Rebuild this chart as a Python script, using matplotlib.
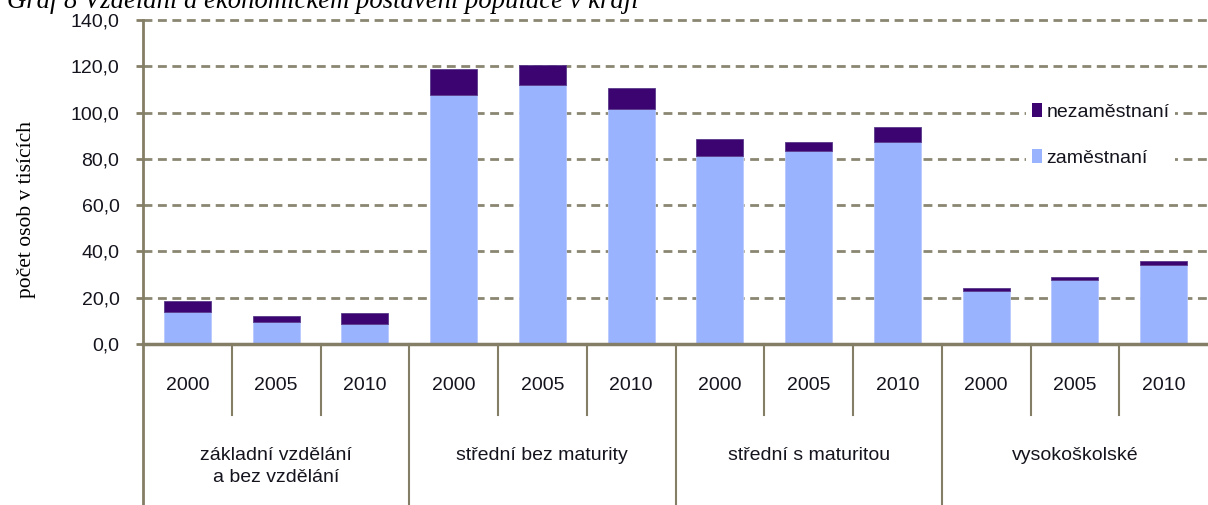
import matplotlib
matplotlib.use("Agg")
import matplotlib.pyplot as plt
from matplotlib.patches import Patch
import numpy as np

# data (tisíce osob)
groups = ["základní vzdělání\na bez vzdělání", "střední bez maturity",
          "střední s maturitou", "vysokoškolské"]
years = ["2000", "2005", "2010"]
zamestnani = [14.0, 9.4, 8.8, 107.6, 112.1, 101.7, 81.4, 83.3, 87.2, 23.0, 27.6, 34.0]
nezamestnani = [4.6, 2.6, 4.6, 11.1, 8.5, 9.1, 7.1, 3.9, 6.6, 1.3, 1.2, 1.9]
yticks = [0, 20, 40, 60, 80, 100, 120, 140]

c_zam = "#99B3FF"
c_nez = "#3B0470"
c_axis = "#857E66"
c_grid = "#8A8672"
c_text = "#14141E"
sans = ["Liberation Sans", "DejaVu Sans"]
serif = ["Liberation Serif", "DejaVu Serif"]

W, H = 1208, 505
fig = plt.figure(figsize=(W / 100, H / 100), dpi=100)
ax_left, ax_bottom, ax_top = 143, 344, 20
ax = fig.add_axes([ax_left / W, (H - ax_bottom) / H, (W - ax_left) / W, (ax_bottom - ax_top) / H])


def ay(px):
    # pixel from top of figure -> axes fraction
    return ((H - px) / H - (H - ax_bottom) / H) / ((ax_bottom - ax_top) / H)


x = np.arange(len(zamestnani))
ax.bar(x, zamestnani, width=0.53, color=c_zam, edgecolor="#B8C9FF", linewidth=0.6, zorder=3)
ax.bar(x, nezamestnani, bottom=zamestnani, width=0.53, color=c_nez, edgecolor="#5A3A8A",
       linewidth=0.6, zorder=3)

ax.set_xlim(-0.5, len(x) - 0.5)
ax.set_ylim(0, 140)
ax.set_yticks(yticks)
ax.set_yticklabels([f"{v:.1f}".replace(".", ",") for v in yticks], fontfamily=sans, fontsize=14,
                   color=c_text)
ax.tick_params(axis="y", length=5, width=2, color=c_axis, pad=12)
ax.set_xticks([])

for v in yticks[1:]:
    ax.axhline(v, color=c_grid, lw=2, linestyle=(0, (3.2, 2.0)), zorder=1, clip_on=False)

for s in ["top", "right"]:
    ax.spines[s].set_visible(False)
ax.spines["left"].set_color(c_axis)
ax.spines["left"].set_linewidth(2)
ax.spines["bottom"].set_color(c_axis)
ax.spines["bottom"].set_linewidth(2.5)
ax.spines["left"].set_zorder(4)
ax.spines["bottom"].set_zorder(4)

# category separators below axis
tr = ax.get_xaxis_transform()
ax.plot([-0.5, -0.5], [0, ay(H)], color=c_axis, lw=2, transform=tr, clip_on=False)
for i in range(1, len(x)):
    y_end = ay(H) if i % 3 == 0 else ay(415)
    ax.plot([i - 0.5, i - 0.5], [0, y_end], color=c_axis, lw=1.5, transform=tr, clip_on=False)

for i in x:
    ax.text(i, ay(385), years[i % 3], ha="center", va="center", transform=tr,
            fontfamily=sans, fontsize=14, color=c_text)
for g, name in enumerate(groups):
    ax.text(3 * g + 1, ay(447), name, ha="center", va="top", transform=tr, fontfamily=sans,
            fontsize=14, color=c_text, linespacing=1.4)

fig.text(27 / W, (H - 210) / H, "počet osob v tisících", rotation=90, ha="center", va="center",
         fontfamily=serif, fontsize=15.5)
fig.text(7 / W, (H - 8) / H, "Graf 8 Vzdělání a ekonomickém postavení populace v kraji",
         ha="left", va="baseline", fontfamily=serif, fontstyle="italic", fontsize=19.2)

handles = [Patch(facecolor=c_nez, edgecolor="none"), Patch(facecolor=c_zam, edgecolor="none")]
leg = ax.legend(handles, ["nezaměstnaní", "zaměstnaní"], loc="upper left",
                bbox_to_anchor=(1026 / W, (H - 97) / H), bbox_transform=fig.transFigure,
                frameon=True, facecolor="white", edgecolor="none", framealpha=1, fancybox=False,
                prop={"family": sans, "size": 14}, handlelength=0.5, handleheight=0.75,
                handletextpad=0.25, labelspacing=1.45, borderpad=0.3, borderaxespad=0)
for t in leg.get_texts():
    t.set_color(c_text)
leg.set_zorder(5)

fig.savefig("out.png", dpi=100)
